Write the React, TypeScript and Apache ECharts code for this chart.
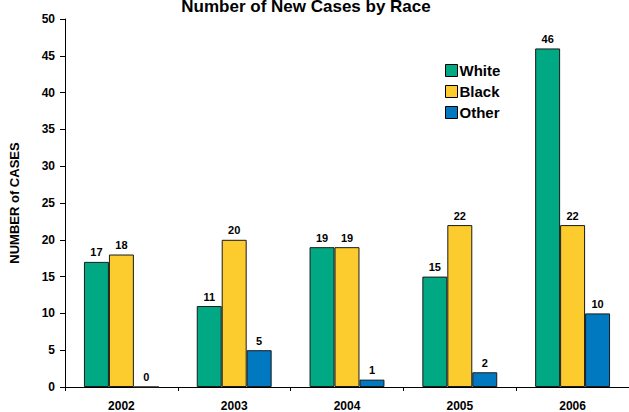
import React, { useEffect, useRef } from "react";
import * as echarts from "echarts";

const years = ["2002", "2003", "2004", "2005", "2006"];
const white = [17, 11, 19, 15, 46];
const black = [18, 20, 19, 22, 22];
const other = [0, 5, 1, 2, 10];

const FONT = "'Liberation Sans', Arial, Helvetica, sans-serif";

export default function App() {
  const ref = useRef<HTMLDivElement>(null);

  useEffect(() => {
    if (!ref.current) return;
    const chart = echarts.init(ref.current, null, { renderer: "svg" });

    const barSeries = (name: string, data: number[], color: string) => ({
      name,
      type: "bar",
      data,
      barGap: "0%",
      barCategoryGap: "33.6%",
      itemStyle: { color, borderColor: "#1a1a1a", borderWidth: 1 },
      label: {
        show: true,
        position: "top",
        distance: 4,
        color: "#000",
        fontFamily: FONT,
        fontWeight: "bold",
        fontSize: 11,
      },
    });

    chart.setOption({
      animation: false,
      backgroundColor: "#fff",
      textStyle: { fontFamily: FONT },
      title: {
        text: "Number of New Cases by Race",
        left: 301,
        textAlign: "center",
        top: -7,
        textStyle: { fontFamily: FONT, fontWeight: "bold", fontSize: 17, color: "#000" },
      },
      legend: {
        orient: "vertical",
        left: 440,
        top: 58,
        itemWidth: 12,
        itemHeight: 12,
        itemGap: 6,
        icon: "rect",
        itemStyle: { borderColor: "#000", borderWidth: 1 },
        textStyle: { fontFamily: FONT, fontWeight: "bold", fontSize: 15, color: "#000", padding: [0, 0, 0, -3] },
        data: ["White", "Black", "Other"],
      },
      grid: { left: 65, right: 0, top: 19, bottom: 25, containLabel: false },
      xAxis: {
        type: "category",
        data: years,
        axisLine: { lineStyle: { color: "#000", width: 1 } },
        axisTick: { show: true, length: 4, lineStyle: { color: "#000" } },
        axisLabel: { margin: 13, color: "#000", fontFamily: FONT, fontWeight: "bold", fontSize: 12 },
      },
      yAxis: {
        type: "value",
        min: 0,
        max: 50,
        interval: 5,
        name: "NUMBER of CASES",
        nameLocation: "middle",
        nameGap: 44,
        nameTextStyle: { fontFamily: FONT, fontWeight: "bold", fontSize: 13, color: "#000" },
        axisLine: { show: true, lineStyle: { color: "#000", width: 1 } },
        axisTick: { show: true, length: 5, lineStyle: { color: "#000" } },
        splitLine: { show: false },
        axisLabel: { margin: 10, color: "#000", fontFamily: FONT, fontWeight: "bold", fontSize: 12 },
      },
      series: [
        barSeries("White", white, "#00a884"),
        barSeries("Black", black, "#fccb2e"),
        barSeries("Other", other, "#0079c1"),
      ],
    });

    return () => chart.dispose();
  }, []);

  return (
    <div
      ref={ref}
      style={{ position: "fixed", left: 0, top: 0, width: 629, height: 412 }}
    />
  );
}
